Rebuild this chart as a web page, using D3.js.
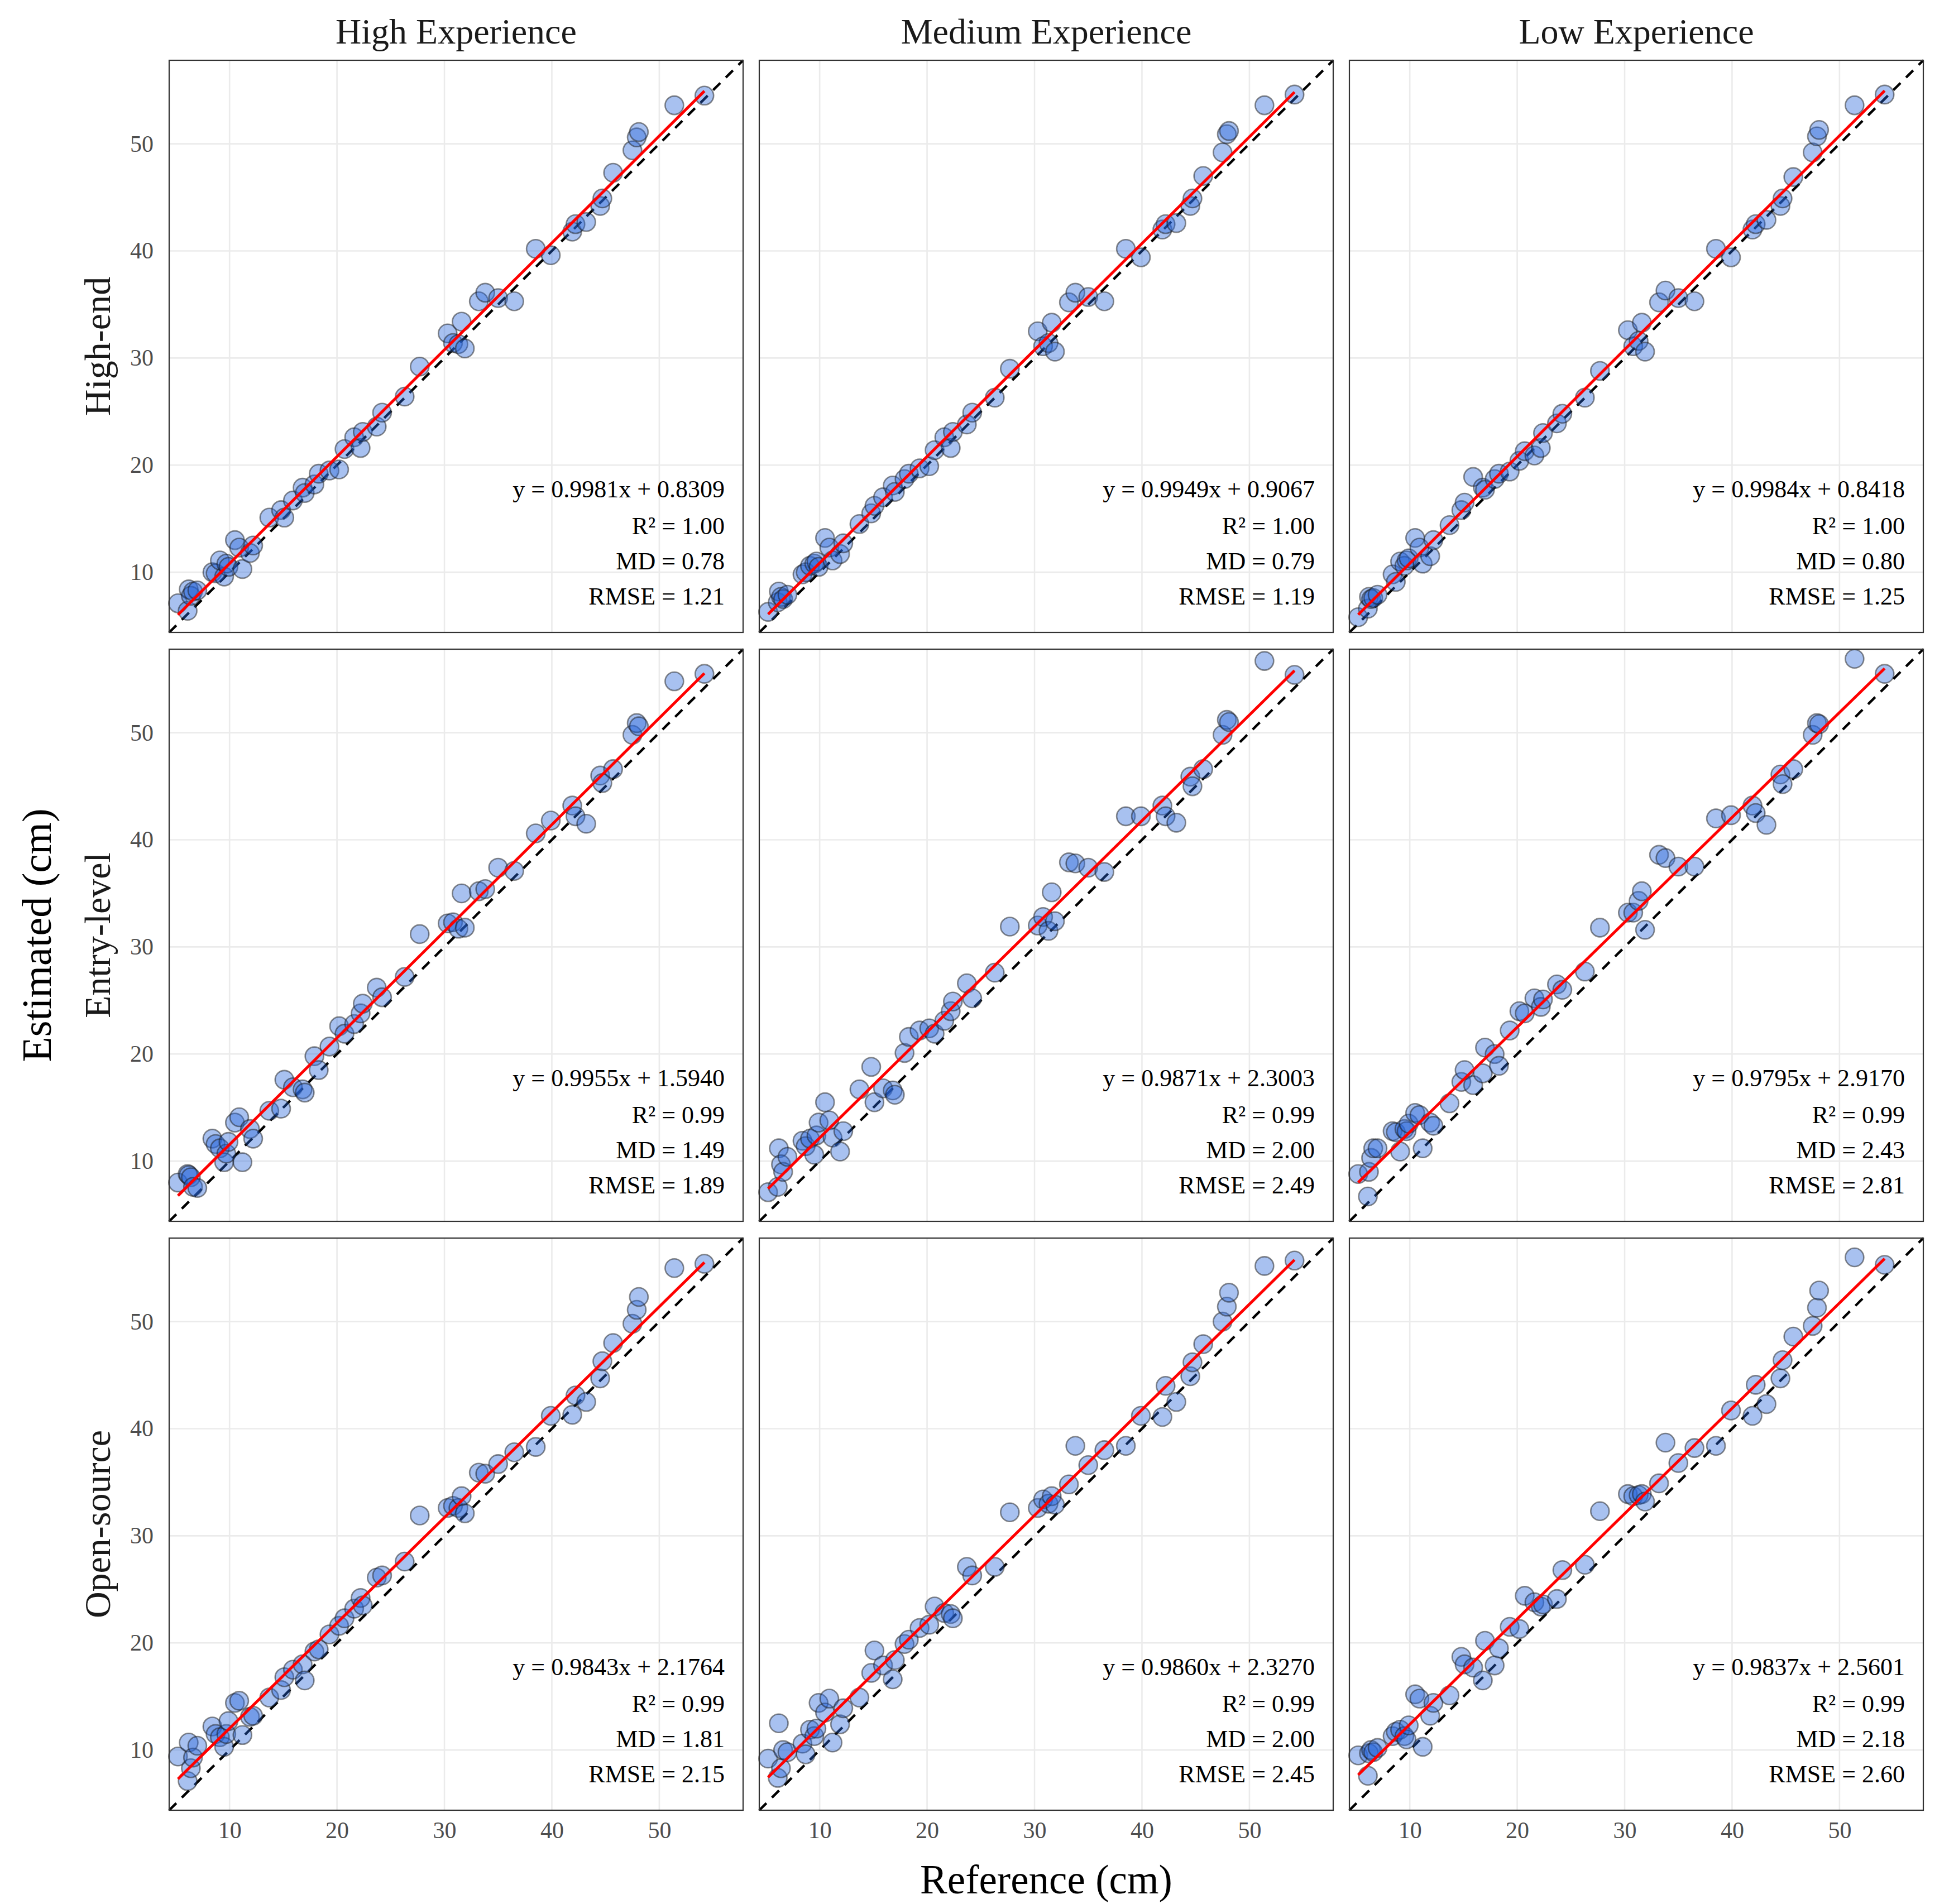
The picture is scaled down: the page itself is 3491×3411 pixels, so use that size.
<!DOCTYPE html>
<html>
<head>
<meta charset="utf-8">
<script src="https://cdn.jsdelivr.net/npm/d3@7"></script>
<style>
  html, body { margin: 0; padding: 0; background: #fff; }
  svg text { font-family: "Palatino Linotype", Palatino, "Book Antiqua", "URW Palladio L", "Liberation Serif", serif; }
</style>
</head>
<body>
<div id="root"></div>
<script>
// facet labels
var experience = ["High Experience", "Medium Experience", "Low Experience"];
var devices = ["High-end", "Entry-level", "Open-source"];
var tickValues = [10, 20, 30, 40, 50];

// reference measurements (shared by every panel)
var reference = [5.2, 6.1, 6.2, 6.4, 6.6, 7.0, 8.4, 8.7, 9.1, 9.5, 9.7, 9.9, 10.5, 10.9, 11.2, 11.9, 12.2,
  13.7, 14.8, 15.1, 15.9, 16.8, 17.0, 17.9, 18.3, 19.3, 20.2, 20.7, 21.6, 22.2, 22.4, 23.7, 24.2, 26.3,
  27.7, 30.3, 30.8, 31.3, 31.6, 31.9, 33.2, 33.8, 35.0, 36.5, 38.5, 39.9, 41.9, 42.2, 43.2, 44.5, 44.7,
  45.7, 47.5, 47.9, 48.1, 51.4, 54.2];

// estimated values, one array per panel (device x experience)
var highEndHigh = [7.1, 6.4, 8.4, 7.8, 8.2, 8.3, 10.0, 9.9, 11.1, 9.6, 10.8, 10.5, 13.0, 12.3, 10.3, 11.8, 12.5,
  15.1, 15.8, 15.1, 16.7, 17.9, 17.4, 18.2, 19.2, 19.5, 19.6, 21.5, 22.6, 21.6, 23.1, 23.6, 24.9, 26.4,
  29.2, 32.3, 31.4, 31.3, 33.4, 30.9, 35.3, 36.1, 35.6, 35.3, 40.2, 39.6, 41.8, 42.5, 42.7, 44.2, 44.9,
  47.3, 49.4, 50.6, 51.1, 53.6, 54.5];
var highEndMedium = [6.3, 7.2, 8.2, 7.7, 7.5, 7.9, 9.8, 10.0, 10.6, 10.8, 11.0, 10.5, 13.2, 12.3, 11.1, 11.7, 12.7,
  14.5, 15.5, 16.2, 17.0, 18.1, 17.5, 18.7, 19.2, 19.7, 19.9, 21.4, 22.6, 21.6, 23.1, 23.8, 24.9, 26.3,
  29.0, 32.5, 31.1, 31.4, 33.3, 30.6, 35.2, 36.1, 35.7, 35.3, 40.2, 39.4, 42.0, 42.5, 42.6, 44.2, 44.9,
  47.0, 49.2, 50.9, 51.2, 53.6, 54.6];
var highEndLow = [5.8, 6.6, 7.7, 7.5, 7.6, 7.9, 9.8, 9.1, 11.0, 10.6, 11.1, 11.3, 13.2, 12.3, 10.8, 11.5, 13.0,
  14.4, 15.8, 16.5, 18.9, 17.9, 17.7, 18.7, 19.2, 19.4, 20.4, 21.3, 20.9, 21.6, 23.0, 23.9, 24.8, 26.3,
  28.8, 32.6, 31.1, 31.6, 33.3, 30.6, 35.2, 36.3, 35.6, 35.3, 40.2, 39.4, 42.0, 42.5, 42.9, 44.2, 44.9,
  46.9, 49.2, 50.7, 51.3, 53.6, 54.6];
var entryHigh = [8.0, 8.8, 8.7, 8.5, 7.6, 7.5, 12.1, 11.6, 11.2, 9.9, 10.7, 11.8, 13.6, 14.1, 9.9, 13.0, 12.1,
  14.7, 14.9, 17.6, 16.9, 16.7, 16.4, 19.8, 18.5, 20.7, 22.6, 21.9, 22.8, 23.8, 24.7, 26.2, 25.3, 27.2,
  31.2, 32.2, 32.3, 31.7, 35.0, 31.8, 35.2, 35.4, 37.4, 37.1, 40.6, 41.8, 43.2, 42.2, 41.5, 46.0, 45.3,
  46.6, 49.8, 50.9, 50.6, 54.8, 55.5];
var entryMedium = [7.1, 7.6, 11.2, 9.7, 9.0, 10.4, 11.9, 11.4, 12.1, 10.6, 12.4, 13.6, 15.5, 13.8, 12.2, 10.9, 12.8,
  16.7, 18.8, 15.5, 16.8, 16.6, 16.2, 20.1, 21.6, 22.2, 22.4, 21.9, 23.1, 24.0, 24.9, 26.6, 25.2, 27.6,
  31.9, 32.0, 32.8, 31.5, 35.1, 32.4, 37.9, 37.8, 37.4, 37.0, 42.2, 42.2, 43.2, 42.2, 41.6, 45.9, 45.0,
  46.6, 49.8, 51.2, 51.0, 56.7, 55.4];
var entryLow = [8.8, 6.7, 9.0, 10.3, 11.2, 11.2, 12.8, 12.7, 10.9, 13.0, 12.8, 13.5, 14.5, 14.3, 11.2, 13.6, 13.3,
  15.4, 17.4, 18.5, 17.1, 18.2, 20.6, 20.0, 18.9, 22.2, 24.0, 23.8, 25.2, 24.4, 25.1, 26.5, 26.0, 27.7,
  31.8, 33.2, 33.2, 34.3, 35.2, 31.6, 38.6, 38.3, 37.5, 37.5, 42.0, 42.3, 43.2, 42.5, 41.4, 46.1, 45.2,
  46.6, 49.8, 50.9, 50.8, 56.9, 55.5];
var openHigh = [9.4, 7.1, 10.7, 8.3, 9.3, 10.4, 12.2, 11.5, 11.2, 10.3, 11.5, 12.7, 14.4, 14.6, 11.4, 13.1, 13.2,
  14.9, 15.6, 16.8, 17.5, 18.0, 16.5, 19.2, 19.4, 20.8, 21.6, 22.3, 23.2, 24.2, 23.5, 26.1, 26.3, 27.6,
  31.9, 32.6, 32.8, 32.6, 33.7, 32.1, 35.9, 35.8, 36.7, 37.8, 38.3, 41.2, 41.3, 43.1, 42.5, 44.7, 46.3,
  48.0, 49.8, 51.1, 52.3, 55.0, 55.4];
var openMedium = [9.2, 7.4, 12.5, 8.3, 10.0, 9.8, 10.6, 9.6, 11.9, 11.3, 12.0, 14.4, 13.5, 14.8, 10.7, 12.4, 13.9,
  14.9, 17.2, 19.3, 17.9, 16.6, 18.4, 19.9, 20.3, 21.4, 21.7, 23.4, 22.8, 22.7, 22.3, 27.1, 26.3, 27.1,
  32.2, 32.6, 33.4, 33.0, 33.7, 32.9, 34.8, 38.4, 36.6, 38.0, 38.4, 41.2, 41.1, 44.0, 42.5, 44.9, 46.2,
  47.9, 50.0, 51.4, 52.7, 55.2, 55.7];
var openLow = [9.5, 7.6, 9.7, 10.0, 9.8, 10.2, 11.3, 11.7, 11.9, 11.3, 11.0, 12.3, 15.2, 14.8, 10.3, 13.2, 14.4,
  15.1, 18.7, 18.0, 17.7, 16.5, 20.2, 17.9, 19.5, 21.5, 21.3, 24.4, 23.8, 23.4, 23.6, 24.1, 26.8, 27.3,
  32.3, 33.9, 33.7, 33.8, 33.9, 33.2, 34.9, 38.7, 36.8, 38.2, 38.4, 41.7, 41.2, 44.1, 42.3, 44.7, 46.4,
  48.6, 49.6, 51.3, 52.9, 56.0, 55.3];

// fit statistics per panel, in row-major order
var slopes = [0.9981, 0.9949, 0.9984, 0.9955, 0.9871, 0.9795, 0.9843, 0.9860, 0.9837];
var intercepts = [0.8309, 0.9067, 0.8418, 1.5940, 2.3003, 2.9170, 2.1764, 2.3270, 2.5601];
var r2Values = ["1.00", "1.00", "1.00", "0.99", "0.99", "0.99", "0.99", "0.99", "0.99"];
var mdValues = ["0.78", "0.79", "0.80", "1.49", "2.00", "2.43", "1.81", "2.00", "2.18"];
var rmseValues = ["1.21", "1.19", "1.25", "1.89", "2.49", "2.81", "2.15", "2.45", "2.60"];

var estimates = [highEndHigh, highEndMedium, highEndLow, entryHigh, entryMedium, entryLow, openHigh, openMedium, openLow];

var W = 3491, H = 3411;
var margin = { left: 303, top: 108 },
    pw = 1028, ph = 1025,
    colStep = 1057, rowStep = 1055;
var fontStack = "\"Palatino Linotype\", Palatino, \"Book Antiqua\", \"Liberation Serif\", serif";

var svg = d3.select("#root").append("svg")
    .attr("width", W).attr("height", H)
    .attr("viewBox", "0 0 " + W + " " + H);

svg.append("rect").attr("width", W).attr("height", H).attr("fill", "#fff");

var domain = [4.38, 57.8];
var x = d3.scaleLinear().domain(domain).range([0, pw]);
var y = d3.scaleLinear().domain(domain).range([ph, 0]);

var xMin = d3.min(reference), xMax = d3.max(reference);

estimates.forEach(function (est, k) {
    var row = Math.floor(k / 3), col = k % 3;
    var g = svg.append("g")
        .attr("transform", "translate(" + (margin.left + col * colStep) + "," + (margin.top + row * rowStep) + ")");

    // grid
    g.selectAll(".vgrid").data(tickValues).enter().append("line")
        .attr("x1", function (d) { return x(d); }).attr("x2", function (d) { return x(d); })
        .attr("y1", 0).attr("y2", ph)
        .attr("stroke", "#ebebeb").attr("stroke-width", 2.6);
    g.selectAll(".hgrid").data(tickValues).enter().append("line")
        .attr("y1", function (d) { return y(d); }).attr("y2", function (d) { return y(d); })
        .attr("x1", 0).attr("x2", pw)
        .attr("stroke", "#ebebeb").attr("stroke-width", 2.6);

    // identity line
    g.append("line")
        .attr("x1", x(domain[0])).attr("y1", y(domain[0]))
        .attr("x2", x(domain[1])).attr("y2", y(domain[1]))
        .attr("stroke", "#000").attr("stroke-width", 4.5)
        .attr("stroke-dasharray", "18,14");

    // points
    g.selectAll(".pt").data(reference).enter().append("circle")
        .attr("cx", function (d) { return x(d); })
        .attr("cy", function (d, i) { return y(est[i]); })
        .attr("r", 16.5)
        .attr("fill", "#2563d9").attr("fill-opacity", 0.4)
        .attr("stroke", "#1a1a1a").attr("stroke-opacity", 0.5).attr("stroke-width", 2.6);

    // regression line
    var a = slopes[k], b = intercepts[k];
    g.append("line")
        .attr("x1", x(xMin)).attr("y1", y(a * xMin + b))
        .attr("x2", x(xMax)).attr("y2", y(a * xMax + b))
        .attr("stroke", "#ff0000").attr("stroke-width", 5);

    // annotation
    var lines = [
        "y = " + a.toFixed(4) + "x + " + b.toFixed(4),
        "R\u00b2 = " + r2Values[k],
        "MD = " + mdValues[k],
        "RMSE = " + rmseValues[k]
    ];
    var offs = [242, 176, 113, 50];
    g.selectAll(".ann").data(lines).enter().append("text")
        .attr("x", pw - 33)
        .attr("y", function (d, i) { return ph - offs[i]; })
        .attr("text-anchor", "end")
        .attr("font-size", 44)
        .attr("fill", "#000")
        .text(function (d) { return d; });

    // border
    g.append("rect").attr("width", pw).attr("height", ph)
        .attr("fill", "none").attr("stroke", "#333").attr("stroke-width", 2.2);

    // axes on outer panels only
    if (col === 0) {
        var ya = g.append("g").call(d3.axisLeft(y).tickValues(tickValues).tickSize(0).tickPadding(28));
        ya.select(".domain").remove();
        ya.selectAll("text").attr("font-size", 42).attr("fill", "#4d4d4d").style("font-family", fontStack);
    }
    if (row === 2) {
        var xa = g.append("g").attr("transform", "translate(0," + ph + ")")
            .call(d3.axisBottom(x).tickValues(tickValues).tickSize(0).tickPadding(20));
        xa.select(".domain").remove();
        xa.selectAll("text").attr("font-size", 42).attr("fill", "#4d4d4d").style("font-family", fontStack);
    }
});

// column strips
svg.selectAll(".colLab").data(experience).enter().append("text")
    .attr("x", function (d, i) { return margin.left + i * colStep + pw / 2; })
    .attr("y", 78)
    .attr("text-anchor", "middle")
    .attr("font-size", 64)
    .attr("fill", "#1a1a1a")
    .text(function (d) { return d; });

// row strips
svg.selectAll(".rowLab").data(devices).enter().append("text")
    .attr("transform", function (d, i) {
        return "translate(174," + (margin.top + i * rowStep + ph / 2) + ") rotate(-90)";
    })
    .attr("text-anchor", "middle")
    .attr("dominant-baseline", "central")
    .attr("font-size", 66)
    .attr("fill", "#1a1a1a")
    .text(function (d) { return d; });

// axis titles
var plotRight = margin.left + 2 * colStep + pw,
    plotBottom = margin.top + 2 * rowStep + ph;
svg.append("text")
    .attr("x", (margin.left + plotRight) / 2)
    .attr("y", 3392)
    .attr("text-anchor", "middle")
    .attr("font-size", 73)
    .attr("fill", "#000")
    .text("Reference (cm)");
svg.append("text")
    .attr("transform", "translate(66," + ((margin.top + plotBottom) / 2) + ") rotate(-90)")
    .attr("text-anchor", "middle")
    .attr("dominant-baseline", "central")
    .attr("font-size", 74)
    .attr("fill", "#000")
    .text("Estimated (cm)");
</script>
</body>
</html>
